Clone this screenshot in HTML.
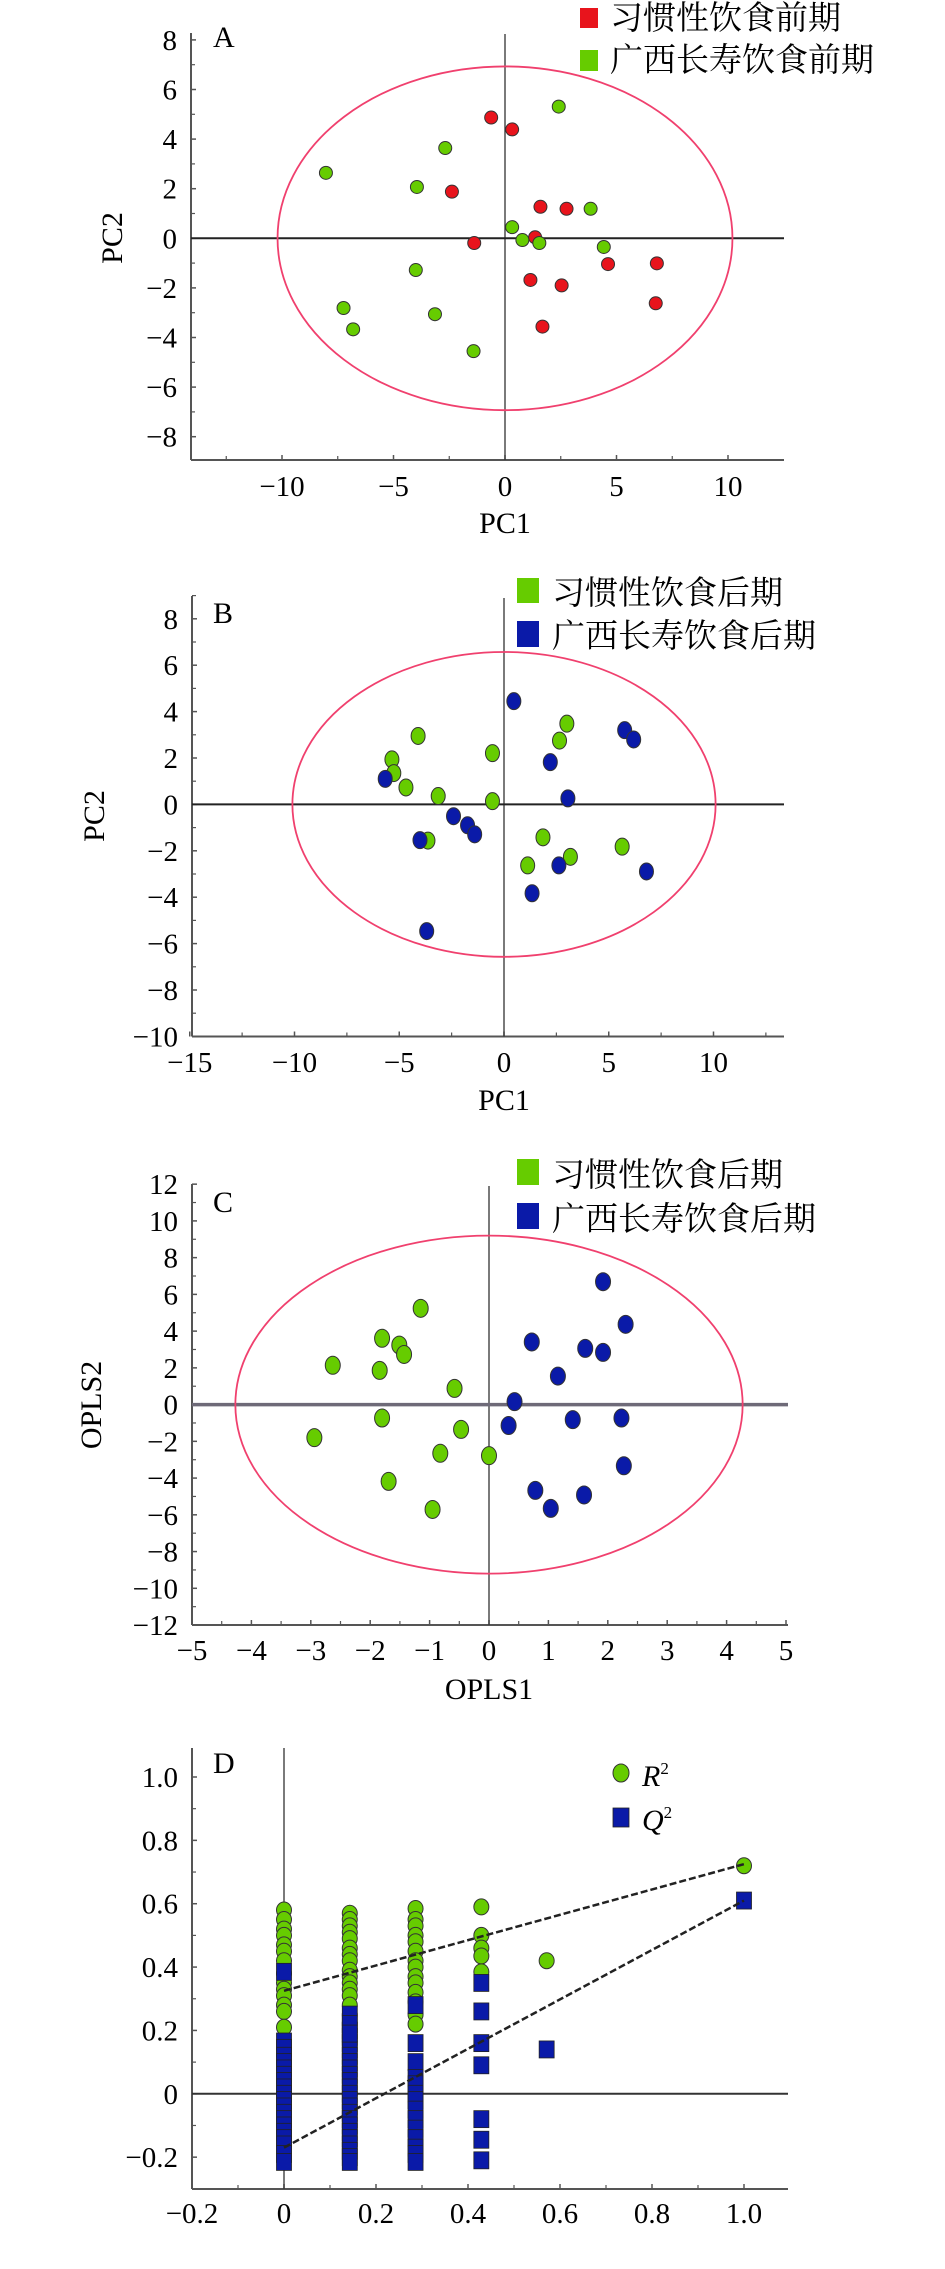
<!DOCTYPE html>
<html><head><meta charset="utf-8">
<style>
html,body{margin:0;padding:0;background:#fff;}
svg{display:block;}
text{font-family:"Liberation Serif","Noto Serif CJK SC",serif;fill:#000;}
.cjk{font-family:"Liberation Serif","Noto Serif CJK SC","Noto Sans CJK SC",serif;}
</style></head>
<body>
<svg id="root" width="945" height="2269" viewBox="0 0 945 2269" xmlns="http://www.w3.org/2000/svg"></svg>
<script>
// ---- Panel A data ----
const aRedX = [-0.62,0.32,-2.38,1.59,2.76,-1.38,1.35,4.62,6.81,1.14,2.54,6.76,1.68];
const aRedY = [4.87,4.39,1.88,1.27,1.19,-0.19,0.04,-1.04,-1.01,-1.68,-1.9,-2.62,-3.56];
const aGreenX = [2.41,-2.68,-8.03,-3.95,3.84,0.32,0.78,1.54,4.43,-4.0,-7.24,-3.14,-6.81,-1.41];
const aGreenY = [5.31,3.64,2.64,2.07,1.19,0.45,-0.07,-0.19,-0.35,-1.28,-2.81,-3.06,-3.67,-4.55];
const aXTicks = [-10,-5,0,5,10];
const aYTicks = [8,6,4,2,0,-2,-4,-6,-8];
// ---- Panel B data ----
const bGreenX = [-4.1,3.0,2.65,-0.55,-5.35,-5.26,-4.68,-3.14,-0.55,-3.63,1.86,5.64,3.17,1.13];
const bGreenY = [2.95,3.48,2.75,2.21,1.94,1.35,0.73,0.36,0.14,-1.56,-1.42,-1.82,-2.26,-2.63];
const bBlueX = [0.47,5.76,6.19,2.21,-5.67,3.05,-2.41,-1.74,-1.4,-4.01,2.62,6.8,1.34,-3.69];
const bBlueY = [4.45,3.2,2.8,1.82,1.1,0.26,-0.51,-0.9,-1.29,-1.54,-2.63,-2.89,-3.83,-5.46];
const bXTicks = [-15,-10,-5,0,5,10];
const bYTicks = [8,6,4,2,0,-2,-4,-6,-8,-10];
// ---- Panel C data ----
const cGreenX = [-1.15,-1.8,-1.51,-1.43,-2.63,-1.84,-0.58,-1.8,-2.94,-0.47,-0.82,0,-1.69,-0.95];
const cGreenY = [5.24,3.61,3.24,2.73,2.14,1.86,0.88,-0.73,-1.8,-1.35,-2.65,-2.78,-4.18,-5.71];
const cBlueX = [1.92,2.3,0.72,1.62,1.92,1.16,0.43,0.33,1.41,2.23,2.27,0.78,1.6,1.04];
const cBlueY = [6.69,4.37,3.41,3.06,2.84,1.55,0.16,-1.14,-0.82,-0.73,-3.33,-4.67,-4.92,-5.65];
const cXTicks = [-5,-4,-3,-2,-1,0,1,2,3,4,5];
const cYTicks = [12,10,8,6,4,2,0,-2,-4,-6,-8,-10,-12];
// ---- Panel D data ----
const dR2X = [0,0,0,0,0,0,0,0,0,0,0,0,0,0, 0.143,0.143,0.143,0.143,0.143,0.143,0.143,0.143,0.143,0.143,0.143,0.143,0.143,0.143,0.143,0.143, 0.286,0.286,0.286,0.286,0.286,0.286,0.286,0.286,0.286,0.286,0.286,0.286,0.286,0.286, 0.429,0.429,0.429,0.429,0.429, 0.571, 1.0];
const dR2Y = [0.58,0.55,0.52,0.5,0.47,0.45,0.42,0.38,0.35,0.33,0.31,0.28,0.26,0.21, 0.57,0.55,0.53,0.51,0.49,0.46,0.44,0.42,0.39,0.37,0.35,0.33,0.31,0.28,0.25,0.22, 0.585,0.55,0.53,0.5,0.48,0.45,0.42,0.4,0.37,0.35,0.32,0.29,0.25,0.22, 0.59,0.5,0.46,0.435,0.385, 0.42, 0.72];
const dQ2X = [0,0,0,0,0,0,0,0,0,0,0,0,0,0,0,0,0,0,0,0, 0.143,0.143,0.143,0.143,0.143,0.143,0.143,0.143,0.143,0.143,0.143,0.143,0.143,0.143,0.143,0.143,0.143,0.143,0.143,0.143,0.143,0.143,0.143,0.143,0.143, 0.286,0.286,0.286,0.286,0.286,0.286,0.286,0.286,0.286,0.286,0.286,0.286,0.286,0.286, 0.429,0.429,0.429,0.429,0.429,0.429,0.429, 0.571, 1.0];
const dQ2Y = [0.385,0.165,0.145,0.12,0.1,0.08,0.06,0.04,0.02,0,-0.02,-0.04,-0.06,-0.08,-0.1,-0.12,-0.14,-0.16,-0.19,-0.215, 0.25,0.2,0.18,0.16,0.14,0.12,0.1,0.08,0.06,0.04,0.02,0,-0.02,-0.04,-0.06,-0.08,-0.1,-0.12,-0.14,-0.16,-0.18,-0.2,-0.215,0.22,0.19, 0.28,0.16,0.1,0.05,0.03,0.0,-0.02,-0.05,-0.08,-0.11,-0.14,-0.17,-0.19,-0.215, 0.35,0.26,0.16,0.09,-0.08,-0.145,-0.21, 0.14, 0.61];
const dR2Line = [0.325,0.725];
const dQ2Line = [-0.17,0.61];
const dXTicks = [-0.2,0,0.2,0.4,0.6,0.8,1.0];
const dYTicks = [1.0,0.8,0.6,0.4,0.2,0,-0.2];
const dXLabels = ["\u22120.2","0","0.2","0.4","0.6","0.8","1.0"];
const dYLabels = ["1.0","0.8","0.6","0.4","0.2","0","\u22120.2"];

const NS="http://www.w3.org/2000/svg";
const root=document.getElementById('root');
function mk(tag,attrs,parent){const e=document.createElementNS(NS,tag);for(const k in attrs)e.setAttribute(k,attrs[k]);(parent||root).appendChild(e);return e;}
function fmt(v){return v<0?"\u2212"+Math.abs(v):String(v);}
const RED="#e8141c",GREEN="#66cc00",BLUE="#0a1aa8";

function panel(cfg){
  const g=mk('g',{});
  
  
  const sx=v=>cfg.x0+(v-cfg.xz)*cfg.xu;
  const sy=v=>cfg.y0-(v-cfg.yz)*cfg.yu;
  cfg.sx=sx;cfg.sy=sy;
  // axes
  const ax=mk('line',{x1:cfg.left,y1:cfg.top,x2:cfg.left,y2:cfg.bottom,stroke:'#555','stroke-width':2},g);
  
  
  const axx=mk('line',{x1:cfg.left,y1:cfg.bottom,x2:cfg.right,y2:cfg.bottom,stroke:'#555','stroke-width':2},g);
  
  
  // ticks
  cfg.xTicks.forEach((t,i)=>{
    mk('line',{x1:sx(t),y1:cfg.bottom,x2:sx(t),y2:cfg.bottom-5,stroke:'#555','stroke-width':1.5},g);
    const tx=mk('text',{x:sx(t),y:cfg.xLabY,'font-size':29,'text-anchor':'middle'},g);
    tx.textContent=cfg.xLabels?cfg.xLabels[i]:fmt(t);
    
    
  });
  (cfg.xMinor||[]).forEach(t=>mk('line',{x1:sx(t),y1:cfg.bottom,x2:sx(t),y2:cfg.bottom-4,stroke:'#555','stroke-width':1.2},g));
  cfg.yTicks.forEach((t,i)=>{
    mk('line',{x1:cfg.left,y1:sy(t),x2:cfg.left+5,y2:sy(t),stroke:'#555','stroke-width':1.5},g);
    const ty=mk('text',{x:cfg.left-14,y:sy(t)+10,'font-size':29,'text-anchor':'end'},g);
    ty.textContent=cfg.yLabels?cfg.yLabels[i]:fmt(t);
    
    
  });
  (cfg.yMinor||[]).forEach(t=>mk('line',{x1:cfg.left,y1:sy(t),x2:cfg.left+4,y2:sy(t),stroke:'#555','stroke-width':1.2},g));
  // zero lines
  const vz=mk('line',{x1:sx(0),y1:cfg.vTop,x2:sx(0),y2:cfg.bottom,stroke:'#333','stroke-width':1.3},g);
  
  
  const hz=mk('line',{x1:cfg.left,y1:sy(0),x2:cfg.right,y2:sy(0),stroke:cfg.hzColor||'#222','stroke-width':cfg.hzW||2},g);
  
  
  if(cfg.ell){
    const el=mk('ellipse',{cx:sx(0),cy:sy(0),rx:cfg.ell[0]*cfg.xu,ry:cfg.ell[1]*cfg.yu,fill:'none',stroke:'#f0406e','stroke-width':1.8},g);
    
    
  }
  // panel letter
  const pl=mk('text',{x:213,y:cfg.letterY,'font-size':30},g);
  pl.textContent=cfg.letter;
  
  
  if(cfg.xTitle){
    const xt=mk('text',{x:sx(0),y:cfg.xTitleY,'font-size':30,'text-anchor':'middle'},g);
    xt.textContent=cfg.xTitle;
    
    
  }
  if(cfg.yTitle){
    const yt=mk('text',{x:0,y:0,'font-size':30,'text-anchor':'middle',transform:`translate(${cfg.yTitleX},${cfg.yTitleY}) rotate(-90)`},g);
    yt.textContent=cfg.yTitle;
    
    
  }
  return g;
}
function dots(g,cfg,xs,ys,color,rx,ry,name){
  xs.forEach((x,i)=>{
    const c=mk('ellipse',{cx:cfg.sx(x),cy:cfg.sy(ys[i]),rx:rx,ry:ry,fill:color,stroke:'#333','stroke-width':1},g);
    
    
  });
}
function legend(g,items){
  items.forEach(it=>{
    const r=mk('rect',{x:it.x,y:it.y,width:it.w,height:it.h,fill:it.color},g);
    
    
    const t=mk('text',{x:it.tx,y:it.ty,'font-size':33,class:'cjk'},g);
    t.textContent=it.label;
    
    
  });
}

// Panel A
const cA={name:'panel-a',left:191,right:784,top:33,bottom:460,vTop:34,x0:505,xz:0,xu:22.3,y0:238.3,yz:0,yu:24.8,
  xTicks:aXTicks,yTicks:aYTicks,xMinor:[-12.5,-7.5,-2.5,2.5,7.5],yMinor:[7,5,3,1,-1,-3,-5,-7],
  xLabY:496,yLabels:null,ell:[10.2,6.93],letter:'A',letterY:47,xTitle:'PC1',xTitleY:533,yTitle:'PC2',yTitleX:122,yTitleY:238};
const gA=panel(cA);
dots(gA,cA,aRedX,aRedY,RED,6.5,6.5,'point-habitual-pre');
dots(gA,cA,aGreenX,aGreenY,GREEN,6.5,6.5,'point-longevity-pre');
legend(gA,[{x:580,y:8,w:18,h:20,color:RED,tx:610,ty:29,label:'习惯性饮食前期'},
           {x:580,y:50,w:18,h:21,color:GREEN,tx:610,ty:71,label:'广西长寿饮食前期'}]);

// Panel B
const cB={name:'panel-b',left:192,right:784,top:596,bottom:1036.5,vTop:598,x0:504,xz:0,xu:20.95,y0:804.4,yz:0,yu:23.2,
  xTicks:bXTicks,yTicks:bYTicks,xMinor:[-12.5,-7.5,-2.5,2.5,7.5,12.5],yMinor:[9,7,5,3,1,-1,-3,-5,-7,-9],
  xLabY:1072,ell:[10.1,6.57],letter:'B',letterY:623,xTitle:'PC1',xTitleY:1110,yTitle:'PC2',yTitleX:104,yTitleY:816};
const gB=panel(cB);
dots(gB,cB,bGreenX,bGreenY,GREEN,7,8.5,'point-habitual-post');
dots(gB,cB,bBlueX,bBlueY,BLUE,7,8.5,'point-longevity-post');
legend(gB,[{x:517,y:578,w:22,h:25,color:GREEN,tx:552,ty:604,label:'习惯性饮食后期'},
           {x:517,y:621,w:22,h:26,color:BLUE,tx:552,ty:647,label:'广西长寿饮食后期'}]);

// Panel C
const cC={name:'panel-c',left:192,right:788,top:1184,bottom:1625,vTop:1186,x0:489,xz:0,xu:59.4,y0:1404.6,yz:0,yu:18.37,
  xTicks:cXTicks,yTicks:cYTicks,xMinor:[-4.5,-3.5,-2.5,-1.5,-0.5,0.5,1.5,2.5,3.5,4.5],yMinor:[11,9,7,5,3,1,-1,-3,-5,-7,-9,-11],
  xLabY:1660,ell:[4.27,9.2],letter:'C',letterY:1212,xTitle:'OPLS1',xTitleY:1699,yTitle:'OPLS2',yTitleX:101,yTitleY:1405,
  hzColor:'#6e6a78',hzW:3.5};
const gC=panel(cC);
dots(gC,cC,cGreenX,cGreenY,GREEN,7.5,9,'point-habitual-post');
dots(gC,cC,cBlueX,cBlueY,BLUE,7.5,9,'point-longevity-post');
legend(gC,[{x:517,y:1159,w:22,h:26,color:GREEN,tx:552,ty:1186,label:'习惯性饮食后期'},
           {x:517,y:1203,w:22,h:26,color:BLUE,tx:552,ty:1230,label:'广西长寿饮食后期'}]);

// Panel D
const cD={name:'panel-d',left:192,right:788,top:1748,bottom:2189,vTop:1748,x0:284,xz:0,xu:460,y0:2093.8,yz:0,yu:316.8,
  xTicks:dXTicks,yTicks:dYTicks,xLabels:dXLabels,yLabels:dYLabels,xMinor:[-0.1,0.1,0.3,0.5,0.7,0.9],yMinor:[0.9,0.7,0.5,0.3,0.1,-0.1],
  xLabY:2223,ell:null,letter:'D',letterY:1773,hzColor:'#333',hzW:2};
const gD=panel(cD);
dots(gD,cD,dR2X,dR2Y,GREEN,7.5,8,'point-r2');
dQ2X.forEach((x,i)=>{
  const r=mk('rect',{x:cD.sx(x)-7.5,y:cD.sy(dQ2Y[i])-8.5,width:15,height:17,fill:BLUE,stroke:'#222','stroke-width':0.8},gD);
  
  
});
const l1=mk('line',{x1:cD.sx(0),y1:cD.sy(dR2Line[0]),x2:cD.sx(1),y2:cD.sy(dR2Line[1]),stroke:'#222','stroke-width':2.5,'stroke-dasharray':'7,3'},gD);


const l2=mk('line',{x1:cD.sx(0),y1:cD.sy(dQ2Line[0]),x2:cD.sx(1),y2:cD.sy(dQ2Line[1]),stroke:'#222','stroke-width':2.5,'stroke-dasharray':'7,3'},gD);


// legend D
const lg1=mk('ellipse',{cx:621,cy:1773,rx:8,ry:9,fill:GREEN,stroke:'#333','stroke-width':1},gD);


const lt1=mk('text',{x:642,y:1786,'font-size':30,'font-style':'italic'},gD);
lt1.innerHTML='R<tspan font-size="17" dy="-12" font-style="normal">2</tspan>';


const lg2=mk('rect',{x:613,y:1808,width:16,height:19,fill:BLUE,stroke:'#222','stroke-width':0.8},gD);


const lt2=mk('text',{x:642,y:1830,'font-size':30,'font-style':'italic'},gD);
lt2.innerHTML='Q<tspan font-size="17" dy="-12" font-style="normal">2</tspan>';


</script>
</body></html>
